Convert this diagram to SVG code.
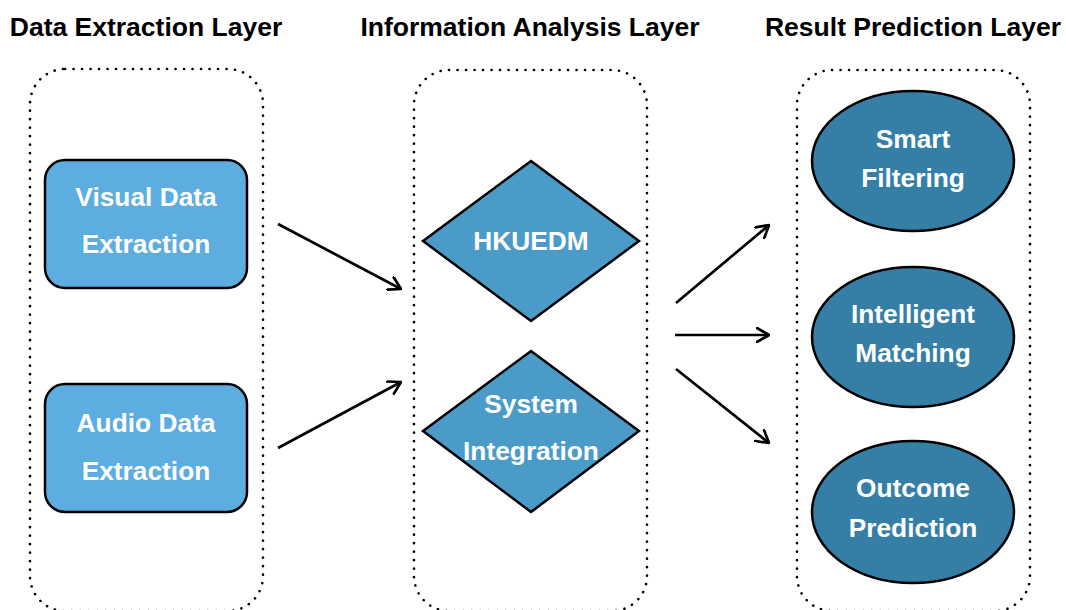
<svg xmlns="http://www.w3.org/2000/svg" width="1066" height="610" viewBox="0 0 1066 610">
<defs>
<style>
.title{font-family:"Liberation Sans",Arial,sans-serif;font-weight:bold;font-size:26.5px;fill:#000;text-anchor:middle}
.lbl{font-family:"Liberation Sans",Arial,sans-serif;font-weight:bold;font-size:26.3px;fill:#fff;text-anchor:middle}
.layer{fill:none;stroke:#000;stroke-width:2.6;stroke-dasharray:0.1 8.4;stroke-linecap:round}
.rect{fill:#5dade0;stroke:#000;stroke-width:2.5}
.dia{fill:#4a9bc8;stroke:#000;stroke-width:2.5}
.ell{fill:#357ea6;stroke:#000;stroke-width:2.5}
.conn{fill:none;stroke:#000;stroke-width:2.7}
</style>
<marker id="arr" viewBox="0 0 14 16" refX="13" refY="8" markerWidth="14" markerHeight="16" markerUnits="userSpaceOnUse" orient="auto">
<path d="M1,1 L13,8 L1,15" fill="none" stroke="#000" stroke-width="2.7" stroke-linecap="round" stroke-linejoin="round"/>
</marker>
</defs>
<rect width="1066" height="610" fill="#fff"/>
<g id="layers">
<text class="title" x="146" y="36">Data Extraction Layer</text>
<text class="title" x="530" y="36">Information Analysis Layer</text>
<text class="title" x="913" y="36">Result Prediction Layer</text>
<rect id="layer-data" class="layer" x="30" y="69" width="233" height="542" rx="35"/>
<rect id="layer-info" class="layer" x="414" y="70" width="233" height="541" rx="35"/>
<rect id="layer-result" class="layer" x="797" y="70" width="233" height="541" rx="35"/>
</g>
<g id="connectors">
<line class="conn" x1="278" y1="224" x2="401" y2="289" marker-end="url(#arr)"/>
<line class="conn" x1="278" y1="448" x2="401" y2="382" marker-end="url(#arr)"/>
<line class="conn" x1="676" y1="303" x2="769" y2="225" marker-end="url(#arr)"/>
<line class="conn" x1="675" y1="335" x2="769" y2="335" marker-end="url(#arr)"/>
<line class="conn" x1="676" y1="369" x2="769" y2="443" marker-end="url(#arr)"/>
</g>
<g id="visual">
<rect class="rect" x="45" y="160" width="202" height="128" rx="20"/>
<text class="lbl" x="146" y="206">Visual Data</text>
<text class="lbl" x="146" y="253">Extraction</text>
</g>
<g id="audio">
<rect class="rect" x="45" y="384" width="202" height="128" rx="20"/>
<text class="lbl" x="146" y="432">Audio Data</text>
<text class="lbl" x="146" y="480">Extraction</text>
</g>
<g id="hkuedm">
<polygon class="dia" points="531,161 639,241 531,321 423,241"/>
<text class="lbl" x="531" y="250">HKUEDM</text>
</g>
<g id="integration">
<polygon class="dia" points="531,351 639,431 531,512 423,431"/>
<text class="lbl" x="531" y="413">System</text>
<text class="lbl" x="531" y="460">Integration</text>
</g>
<g id="filtering">
<ellipse class="ell" cx="913" cy="161" rx="101" ry="70"/>
<text class="lbl" x="913" y="148">Smart</text>
<text class="lbl" x="913" y="187">Filtering</text>
</g>
<g id="matching">
<ellipse class="ell" cx="913" cy="337" rx="101" ry="70"/>
<text class="lbl" x="913" y="323">Intelligent</text>
<text class="lbl" x="913" y="362">Matching</text>
</g>
<g id="prediction">
<ellipse class="ell" cx="913" cy="512" rx="101" ry="71"/>
<text class="lbl" x="913" y="497">Outcome</text>
<text class="lbl" x="913" y="537">Prediction</text>
</g>
</svg>
